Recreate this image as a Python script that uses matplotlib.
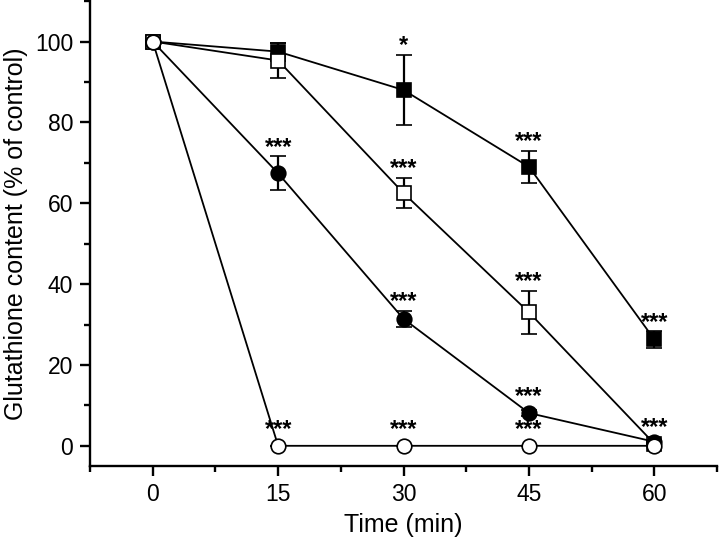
import matplotlib
matplotlib.use("Agg")
import matplotlib.pyplot as plt
from matplotlib.ticker import MultipleLocator

plt.rcParams['font.family'] = ['Liberation Sans', 'DejaVu Sans']

time = [0, 15, 30, 45, 60]

sq_filled = [100, 97.5, 88, 69, 26.3]
sq_filled_err = [0, 2.2, 8.6, 4.0, 2.0]
sq_filled_stars = ['', '', '*', '***', '***']

sq_open = [100, 95.3, 62.5, 33, 0.5]
sq_open_err = [0, 4.4, 3.8, 5.4, 0.5]
sq_open_stars = ['', '', '***', '***', '***']

ci_filled = [100, 67.4, 31.4, 8.1, 1.0]
ci_filled_err = [0, 4.2, 2.0, 0.8, 0.5]
ci_filled_stars = ['', '***', '***', '***', '']

ci_open = [100, 0, 0, 0, 0]
ci_open_err = [0, 0, 0, 0, 0]
ci_open_stars = ['', '***', '***', '***', '']

fig = plt.figure(figsize=(7.2, 5.4), dpi=100)
ax = fig.add_axes([0.125, 0.137, 0.871, 0.861])

series = [
    (sq_filled, sq_filled_err, sq_filled_stars, 's', 'black'),
    (sq_open, sq_open_err, sq_open_stars, 's', 'white'),
    (ci_filled, ci_filled_err, ci_filled_stars, 'o', 'black'),
    (ci_open, ci_open_err, ci_open_stars, 'o', 'white'),
]

for i, (vals, errs, stars, mk, fc) in enumerate(series):
    ax.errorbar(time, vals, yerr=errs, fmt='-', color='black', lw=1.3,
                marker=mk, markersize=10.5 if mk == 'o' else 10,
                markerfacecolor=fc, markeredgecolor='black', markeredgewidth=1.2,
                ecolor='black', elinewidth=1.6, capsize=5.5, capthick=1.6,
                zorder=3 + i)
    for t, v, e, s in zip(time, vals, errs, stars):
        if s:
            top = max(v + e, v + 1.7)
            ax.annotate(s, xy=(t, top), xytext=(0, 2), textcoords='offset points',
                        ha='center', va='baseline', fontsize=17, fontweight='bold',
                        zorder=2)

ax.set_xlim(-7.5, 67.5)
ax.set_ylim(-5, 110)
ax.xaxis.set_major_locator(MultipleLocator(15))
ax.xaxis.set_minor_locator(MultipleLocator(7.5))
ax.yaxis.set_major_locator(MultipleLocator(20))
ax.yaxis.set_minor_locator(MultipleLocator(10))
ax.spines['top'].set_visible(False)
ax.spines['right'].set_visible(False)
for sp in ('left', 'bottom'):
    ax.spines[sp].set_linewidth(1.7)
ax.tick_params(which='major', direction='out', length=7, width=1.7, labelsize=16.5, pad=5)
ax.tick_params(which='minor', direction='out', length=4, width=1.7)

ax.set_xlabel('Time (min)', fontsize=18, labelpad=5)
ax.set_ylabel('Glutathione content (% of control)', fontsize=18, labelpad=5)

fig.savefig('out.png', dpi=100)
